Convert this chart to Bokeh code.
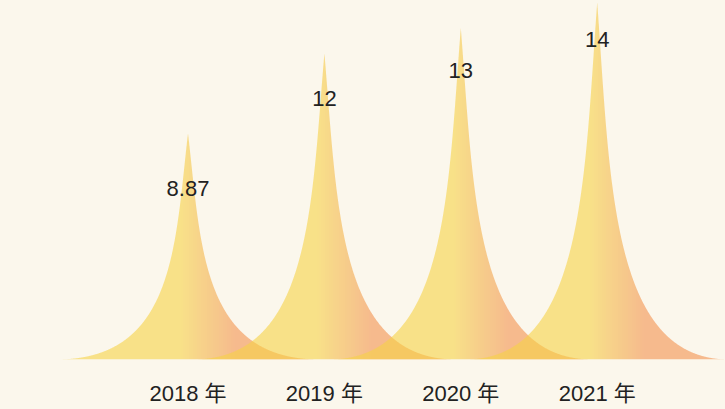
import numpy as np
from bokeh.plotting import figure
from bokeh.models import Range1d, FixedTicker, ColumnDataSource, GlobalInlineStyleSheet
from bokeh.core.properties import value
from bokeh.embed import file_html
from bokeh.resources import INLINE

# ---- data ----
categories = ["2018 年", "2019 年", "2020 年", "2021 年"]
values = [8.87, 12, 13, 14]
value_labels = ["8.87", "12", "13", "14"]
label_offsets_px = [55, 45, 42, 37]   # label drop below each peak (screen px)

# ---- style / layout ----
BG = "#FBF7EC"
YELLOW = np.array([246, 210, 70])
ORANGE = np.array([243, 145, 78])
ALPHA = 0.6
W, H = 725, 409
BOTTOM = 50
PX_PER_CAT = 136.4
X0_PX = 187.5
FRAME_H = H - BOTTOM
PX_PER_UNIT = 25.5
HALF_W_PX = 132.0
PIX_SHIFT = 0.5

x_start = -X0_PX / PX_PER_CAT
x_end = (W - X0_PX) / PX_PER_CAT
y_end = FRAME_H / PX_PER_UNIT

# spike outline (cubic bezier, right half): normalized distance d -> height fraction
t = np.linspace(0, 1, 2001)
u = (1 - t) ** 3 * 1 + 3 * (1 - t) ** 2 * t * 0.55 + 3 * (1 - t) * t ** 2 * 0.55 + t ** 3 * 0.5
vv = 3 * (1 - t) * t ** 2 * 0.5 + t ** 3
d_tab = (u - 0.5) / 0.5
order = np.argsort(d_tab)
d_tab, v_tab = d_tab[order], vv[order]


def frac(dist):
    return np.interp(np.abs(dist), d_tab, v_tab, right=0.0)


def to_hex(c):
    return "#%02x%02x%02x" % tuple(int(round(k)) for k in c)


xs, ys, cols = [], [], []
for i, val in enumerate(values):
    cx = X0_PX + PX_PER_CAT * i
    left = int(np.floor(cx - HALF_W_PX))
    right = int(np.ceil(cx + HALF_W_PX))
    for a0 in range(left, right, 2):
        a = a0 - PIX_SHIFT
        b = a + 2
        pts = list(np.linspace(a, b, 6))
        if a < cx < b:
            pts.append(cx)
            pts.sort()
        pts = np.array(pts)
        hts = val * frac((pts - cx) / HALF_W_PX)
        px_poly = np.concatenate([pts, [b, a]])
        y_poly = np.concatenate([hts, [0.0, 0.0]])
        xs.append(list((px_poly - X0_PX) / PX_PER_CAT))
        ys.append(list(y_poly))
        s = ((a + b) / 2 - (cx - HALF_W_PX)) / (2 * HALF_W_PX)
        m = np.clip((s - 0.47) / 0.21, 0, 1)
        cols.append(to_hex(YELLOW * (1 - m) + ORANGE * m))

p = figure(width=W, height=H, output_backend="svg", toolbar_location=None,
           x_range=Range1d(x_start, x_end), y_range=Range1d(0, y_end),
           min_border_left=0, min_border_right=0, min_border_top=0, min_border_bottom=BOTTOM,
           background_fill_color=BG, border_fill_color=BG, outline_line_color=None)
p.stylesheets = [GlobalInlineStyleSheet(css="html,body{margin:0;padding:0;background:%s;}" % BG)]

p.patches(xs=xs, ys=ys, fill_color=cols, fill_alpha=ALPHA, line_color=None)

src = ColumnDataSource(dict(x=list(range(len(values))), y=values, t=value_labels,
                            off=label_offsets_px))
p.text(x="x", y="y", text="t", y_offset="off", source=src,
       text_align="center", text_baseline="middle",
       text_font=value("Liberation Sans, Noto Sans CJK SC"), text_font_size="22px",
       text_color="#222222")

p.xgrid.visible = False
p.ygrid.visible = False
p.yaxis.visible = False
ax = p.xaxis[0]
ax.ticker = FixedTicker(ticks=list(range(len(categories))))
ax.major_label_overrides = {i: c for i, c in enumerate(categories)}
ax.axis_line_color = None
ax.major_tick_line_color = None
ax.minor_tick_line_color = None
ax.major_tick_out = 0
ax.major_tick_in = 0
ax.major_label_standoff = 21
ax.major_label_text_font = "Liberation Sans, Noto Sans CJK SC"
ax.major_label_text_font_size = "22px"
ax.major_label_text_color = "#222222"

open("out.html", "w").write(file_html(p, INLINE))
